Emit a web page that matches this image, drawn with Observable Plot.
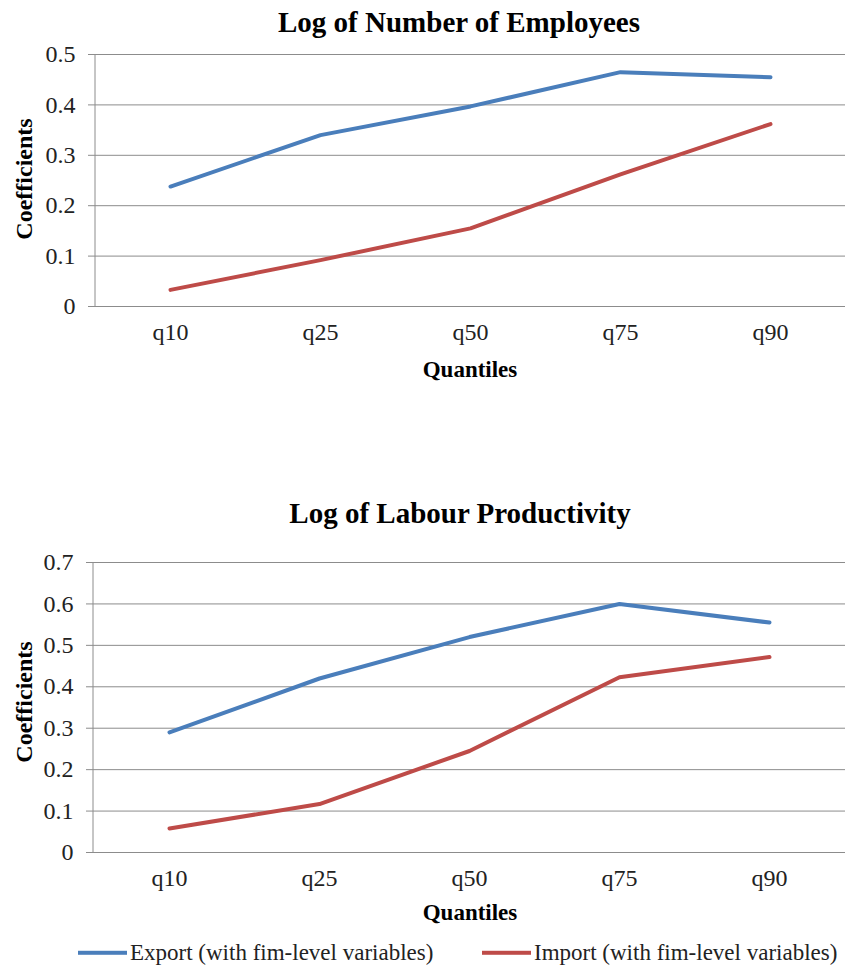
<!DOCTYPE html>
<html>
<head>
<meta charset="utf-8">
<script src="https://cdn.jsdelivr.net/npm/d3@7"></script>
<script src="https://cdn.jsdelivr.net/npm/@observablehq/plot@0.6"></script>
<style>
  html, body { margin: 0; padding: 0; background: #fff; }
  #wrap { position: relative; width: 852px; height: 972px; font-family: "Liberation Serif", "Times New Roman", serif; color: #000; }
  .abs { position: absolute; white-space: nowrap; line-height: 1.15; }
  .title { font-weight: bold; font-size: 29px; transform: translate(-50%, -50%); }
  .xlab { font-weight: bold; font-size: 23px; transform: translate(-50%, -50%); }
  .ylab { font-weight: bold; font-size: 24px; transform: translate(-50%, -50%) rotate(-90deg); }
  .legend { font-size: 23px; color: #222; transform: translateY(-50%); display: flex; align-items: center; }
  .swatch { display: inline-block; width: 49px; height: 4px; margin-right: 3px; }
  .chart { position: absolute; left: 0; }
</style>
</head>
<body>
<div id="wrap"></div>
<script>
// Quantile regression coefficients by quantile
const quantiles = ["q10", "q25", "q50", "q75", "q90"];

// Log of Number of Employees
const employeesExport = [0.238, 0.340, 0.397, 0.465, 0.455];
const employeesImport = [0.033, 0.092, 0.155, 0.262, 0.362];
const employeesTicks = [0, 0.1, 0.2, 0.3, 0.4, 0.5];

// Log of Labour Productivity
const productivityExport = [0.290, 0.420, 0.520, 0.600, 0.555];
const productivityImport = [0.058, 0.117, 0.245, 0.423, 0.472];
const productivityTicks = [0, 0.1, 0.2, 0.3, 0.4, 0.5, 0.6, 0.7];

const seriesNames = ["Export (with fim-level variables)", "Import (with fim-level variables)"];
const seriesColors = ["#4a7ebb", "#be4b48"];

const FONT = '"Liberation Serif", "Times New Roman", serif';
const GRID = "#8c8c8c";

function toRows(exp, imp) {
  const rows = [];
  quantiles.forEach((q, i) => rows.push({q, v: exp[i], s: seriesNames[0]}));
  quantiles.forEach((q, i) => rows.push({q, v: imp[i], s: seriesNames[1]}));
  return rows;
}

// vertical axis line along the left edge of the plot area
function leftAxisLine(index, scales, values, dims) {
  const g = document.createElementNS("http://www.w3.org/2000/svg", "line");
  g.setAttribute("x1", dims.marginLeft);
  g.setAttribute("x2", dims.marginLeft);
  g.setAttribute("y1", dims.marginTop);
  g.setAttribute("y2", dims.height - dims.marginBottom);
  g.setAttribute("stroke", GRID);
  g.setAttribute("stroke-width", 1);
  return g;
}

function makeChart({exp, imp, ticks, top, margins}) {
  const rows = toRows(exp, imp);
  const chart = Plot.plot({
    width: 852,
    height: 400,
    marginLeft: margins.left,
    marginRight: margins.right,
    marginTop: margins.top,
    marginBottom: margins.bottom,
    style: {fontFamily: FONT, background: "transparent", overflow: "visible"},
    x: {type: "point", domain: quantiles, padding: 0.5, axis: null},
    y: {domain: [ticks[0], ticks[ticks.length - 1]], axis: null},
    color: {domain: seriesNames, range: seriesColors},
    marks: [
      Plot.ruleY(ticks, {stroke: GRID, strokeWidth: 1}),
      leftAxisLine,
      Plot.axisY(ticks, {
        tickSize: 7, tickPadding: 13, stroke: GRID, fontSize: 24, fill: "#222",
        tickFormat: d => d === 0 ? "0" : d.toFixed(1), label: null
      }),
      Plot.axisX({tickSize: 0, tickPadding: 16, fontSize: 24, fill: "#222", label: null}),
      Plot.line(rows, {x: "q", y: "v", z: "s", stroke: "s", strokeWidth: 4, strokeLinecap: "round", strokeLinejoin: "round"})
    ]
  });
  chart.classList.add("chart");
  chart.style.top = top + "px";
  return chart;
}

const wrap = document.getElementById("wrap");

wrap.appendChild(makeChart({
  exp: employeesExport, imp: employeesImport, ticks: employeesTicks, top: 0,
  margins: {left: 95, right: 7, top: 54, bottom: 94}
}));
wrap.appendChild(makeChart({
  exp: productivityExport, imp: productivityImport, ticks: productivityTicks, top: 500,
  margins: {left: 93, right: 7, top: 62, bottom: 48}
}));

function addText(cls, text, x, y) {
  const d = document.createElement("div");
  d.className = "abs " + cls;
  d.textContent = text;
  d.style.left = x + "px";
  d.style.top = y + "px";
  wrap.appendChild(d);
  return d;
}

addText("title", "Log of Number of Employees", 459, 23);
addText("ylab", "Coefficients", 25, 179);
addText("xlab", "Quantiles", 470, 370);

addText("title", "Log of Labour Productivity", 460, 514);
addText("ylab", "Coefficients", 25, 702);
addText("xlab", "Quantiles", 470, 913);

// shared legend below both charts
[[78, 0], [482, 1]].forEach(([x, i]) => {
  const d = document.createElement("div");
  d.className = "abs legend";
  d.style.left = x + "px";
  d.style.top = "953px";
  const sw = document.createElement("span");
  sw.className = "swatch";
  sw.style.background = seriesColors[i];
  d.appendChild(sw);
  d.appendChild(document.createTextNode(seriesNames[i]));
  wrap.appendChild(d);
});
</script>
</body>
</html>
